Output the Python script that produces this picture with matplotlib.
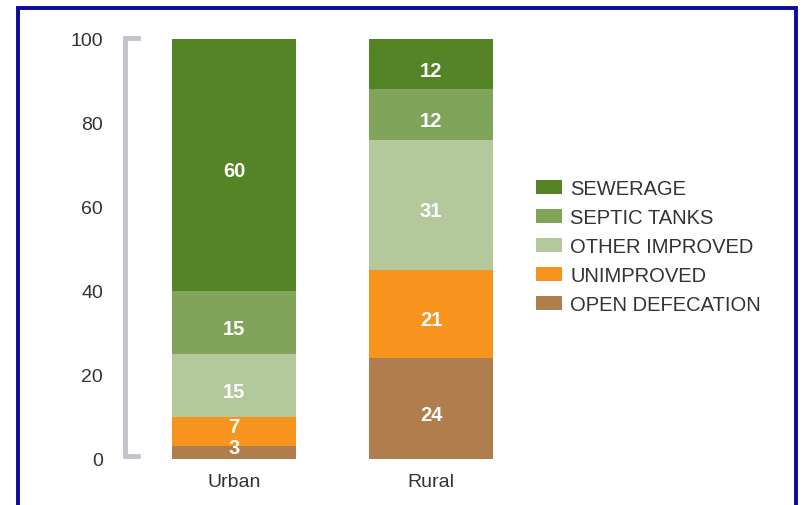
import matplotlib
matplotlib.use('Agg')
import matplotlib.pyplot as plt
from matplotlib.patches import Rectangle
from matplotlib.lines import Line2D

# data
areas = ['Urban', 'Rural']
categories = ['OPEN DEFECATION', 'UNIMPROVED', 'OTHER IMPROVED', 'SEPTIC TANKS', 'SEWERAGE']
urban = [3, 7, 15, 15, 60]
rural = [24, 21, 31, 12, 12]
yticks = [0, 20, 40, 60, 80, 100]

colors = ['#b07d4d', '#f7941d', '#b4c99b', '#80a45a', '#558427']
font = ['Liberation Sans', 'DejaVu Sans']
plt.rcParams['font.family'] = font

fig = plt.figure(figsize=(8.02, 5.06), dpi=100)
ax = fig.add_axes([130 / 802, 46 / 506, 370 / 802, 420 / 506])

series = [urban, rural]
x = list(range(len(areas)))
width = 0.63
bottoms = [0, 0]
for i, cat in enumerate(categories):
    vals = [s[i] for s in series]
    ax.bar(x, vals, width, bottom=bottoms, color=colors[i], label=cat)
    for j, v in enumerate(vals):
        # labels sit a bit low in big segments, a bit high in the thin ones
        off = -1.4 if v >= 10 else 1.2
        ax.text(x[j], bottoms[j] + v / 2 + off, str(v), ha='center', va='center',
                color='white', fontsize=14.5, fontweight='bold')
    bottoms = [b + v for b, v in zip(bottoms, vals)]

ax.set_xlim(-0.528, 1.35)
ax.set_ylim(0, 100)
ax.set_yticks(yticks)
ax.set_yticklabels([str(t) for t in yticks], fontsize=14, color='#333333')
ax.set_xticks(x)
ax.set_xticklabels(areas, fontsize=14, color='#333333')
ax.tick_params(axis='y', length=0, pad=19.5)
ax.tick_params(axis='x', length=0, pad=10)
for sp in ax.spines.values():
    sp.set_visible(False)

# gray bracket on the left
tr = ax.get_yaxis_transform()
ax.add_line(Line2D([0.022, -0.0135, -0.0135, 0.022], [100.2, 100.2, 0.8, 0.8], transform=tr,
                   color='#c3c3cb', lw=3.5, clip_on=False, solid_joinstyle='miter'))

handles, labels = ax.get_legend_handles_labels()
leg = fig.legend(handles[::-1], labels[::-1], loc='upper left', bbox_to_anchor=(536 / 802, 1 - 180 / 506),
                 frameon=False, fontsize=14.5, handlelength=1.3, handleheight=0.65,
                 handletextpad=0.4, labelspacing=0.5, borderpad=0, borderaxespad=0)
for t in leg.get_texts():
    t.set_color('#333333')

# blue frame
fig.patches.append(Rectangle((18 / 802, -0.05), (796 - 18) / 802, 1.05 - 9 / 506,
                             transform=fig.transFigure, fill=False, edgecolor='#0a0a9a', lw=2.8))

fig.savefig('out.png', dpi=100)
